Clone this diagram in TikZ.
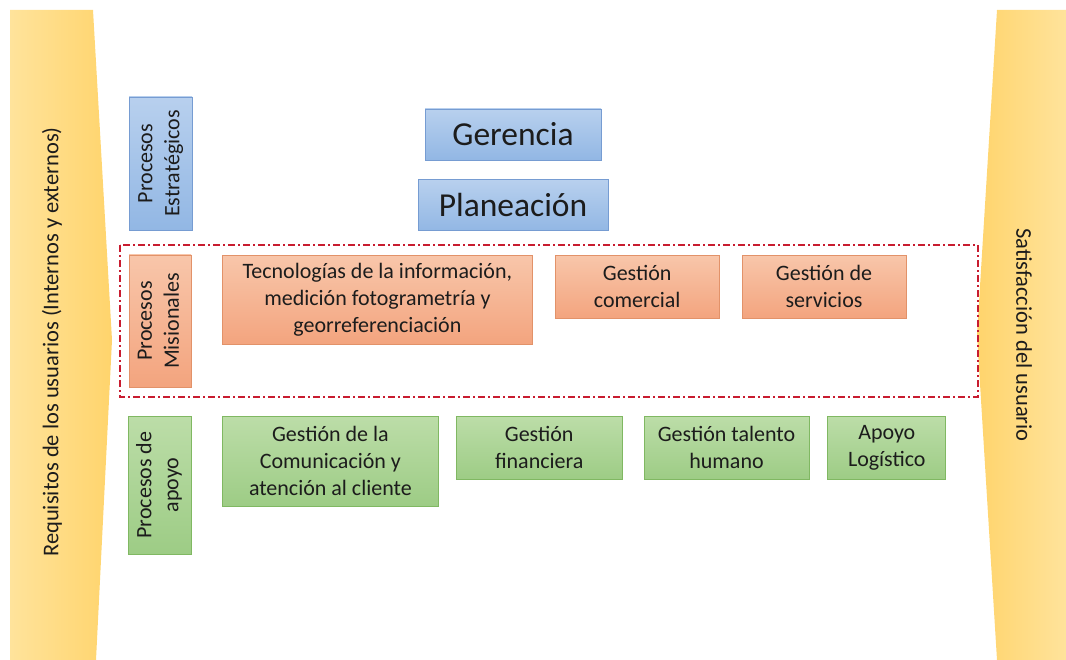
\documentclass[tikz,border=0pt]{standalone}
\usepackage{fontspec}
\setmainfont{Carlito}
\usepackage{graphicx}
\usepackage{tikz}
\usetikzlibrary{positioning}

\definecolor{azulA}{RGB}{184,208,238}
\definecolor{azulB}{RGB}{146,183,228}
\definecolor{azulL}{RGB}{118,156,210}
\definecolor{narA}{RGB}{248,198,170}
\definecolor{narB}{RGB}{243,164,126}
\definecolor{narL}{RGB}{226,146,105}
\definecolor{verA}{RGB}{188,221,168}
\definecolor{verB}{RGB}{157,204,133}
\definecolor{verL}{RGB}{128,184,98}
\definecolor{amaA}{RGB}{255,212,108}
\definecolor{amaB}{RGB}{255,227,155}
\definecolor{rojo}{RGB}{200,28,48}
\definecolor{texto}{RGB}{28,28,28}

\tikzstyle{caja} = [rectangle, line width=0.8pt, align=center, text centered, text=texto, inner sep=2pt, font=\fontsize{22}{27}\selectfont]
\tikzstyle{estrat} = [caja, draw=azulL, top color=azulA, bottom color=azulB]
\tikzstyle{mision} = [caja, draw=narL, top color=narA, bottom color=narB, anchor=north west]
\tikzstyle{apoyo} = [caja, draw=verL, top color=verA, bottom color=verB, anchor=north west]
\tikzstyle{titulo} = [estrat, font=\fontsize{33.5}{38}\selectfont, minimum height=51pt]
\tikzstyle{lateral} = [text=texto, font=\fontsize{22.5}{27}\selectfont]
\tikzstyle{borde} = [draw=rojo, line width=1.4pt, dash pattern=on 7pt off 3pt on 2pt off 3pt]
\newcommand{\vtext}[1]{\rotatebox{90}{\begin{tabular}{@{}c@{}}#1\end{tabular}}}

\begin{document}
\begin{tikzpicture}[x=1pt, y=-1pt]
    \useasboundingbox (0,0) rectangle (1066,660);
    % side shapes
    \shade [left color=amaB, right color=amaA] (10,10) -- (93,10) -- (112,340) -- (96,660) -- (10,660) -- cycle;
    \shade [left color=amaA, right color=amaB] (997,10) -- (1066,10) -- (1066,660) -- (997,660) -- (977,335) -- cycle;
    \node (req) [lateral, rotate=90] at (52,342) {Requisitos de los usuarios (Internos y externos)};
    \node (sat) [lateral, rotate=-90] at (1024,335) {Satisfacción del usuario};

    % estrategicos
    \node (estr) [estrat, minimum width=63pt, minimum height=133pt] at (160.5,163.5) {\vtext{Procesos\\Estratégicos}};
    \node (geren) [titulo, minimum width=176pt] at (513,134.5) {Gerencia};
    \node (plane) [titulo, minimum width=190pt, below=19pt of geren] {Planeación};

    % misionales
    \draw [borde] (120,245) rectangle (978,397);
    \node (misi) [mision, anchor=center, minimum width=62pt, minimum height=132pt] at (160,321) {\vtext{Procesos\\Misionales}};
    \node (tec) [mision, minimum width=310pt, minimum height=89pt] at (222,255) {Tecnologías de la información,\\medición fotogrametría y\\georreferenciación};
    \node (comer) [mision, minimum width=164pt, minimum height=63pt, right=22pt of tec.north east, anchor=north west] {Gestión\\comercial};
    \node (serv) [mision, minimum width=164pt, minimum height=63pt, right=22pt of comer.north east, anchor=north west] {Gestión de\\servicios};

    % apoyo
    \node (apoy) [apoyo, anchor=center, minimum width=63pt, minimum height=138pt] at (159.5,485) {\vtext{Procesos de\\apoyo}};
    \node (comu) [apoyo, minimum width=216pt, minimum height=90pt] at (222,416) {Gestión de la\\Comunicación y\\atención al cliente};
    \node (finan) [apoyo, minimum width=166pt, minimum height=63pt, right=17pt of comu.north east, anchor=north west] {Gestión\\financiera};
    \node (talen) [apoyo, minimum width=165pt, minimum height=63pt, right=21pt of finan.north east, anchor=north west] {Gestión talento\\humano};
    \node (logis) [apoyo, minimum width=118pt, minimum height=63pt, right=18pt of talen.north east, anchor=north west] {Apoyo\\Logístico};
\end{tikzpicture}
\end{document}
